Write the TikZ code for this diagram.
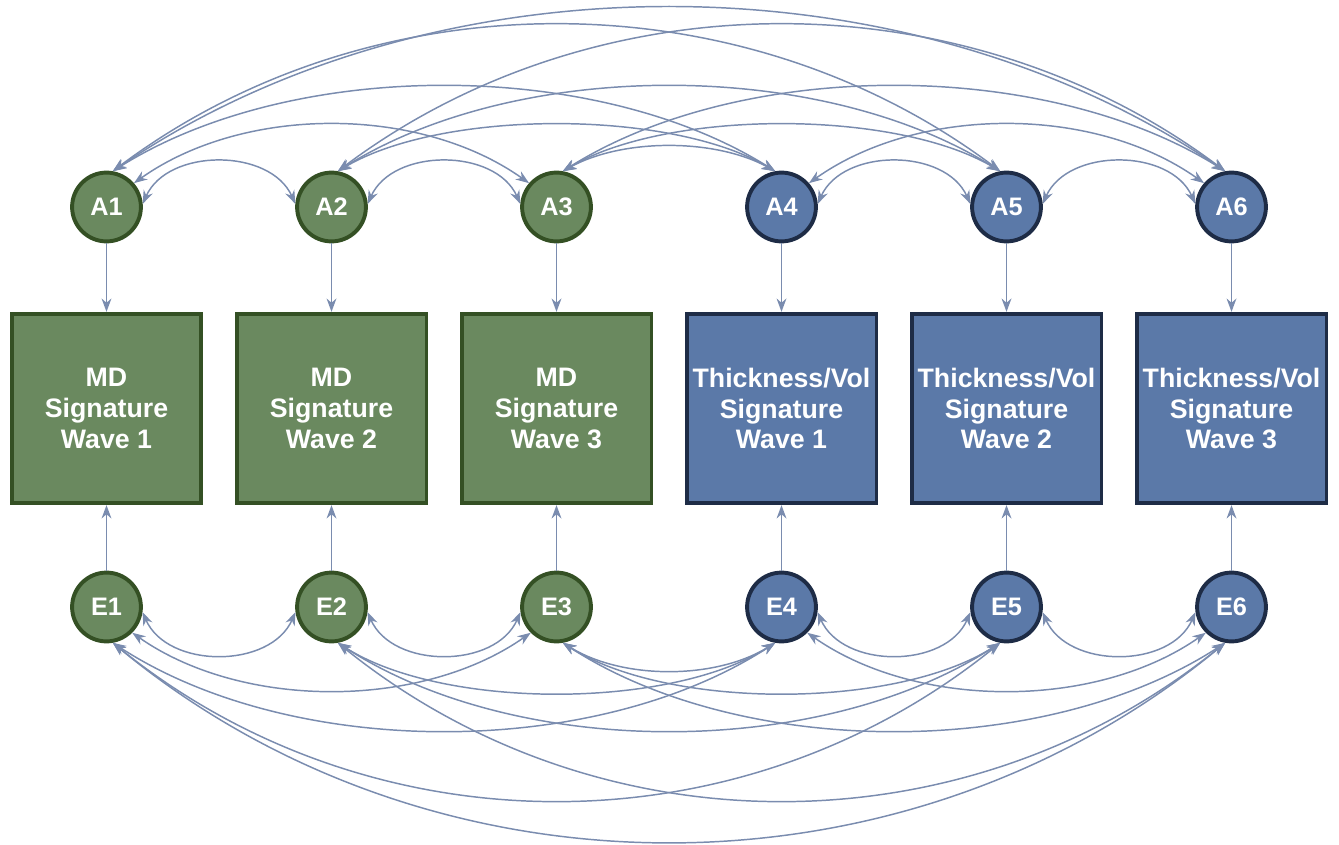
\documentclass[tikz,border=0pt]{standalone}
\usepackage{fontspec}
\setmainfont{Liberation Sans}
\usetikzlibrary{arrows.meta}
\definecolor{mdfill}{RGB}{106,137,95}
\definecolor{mdline}{RGB}{52,80,36}
\definecolor{tvfill}{RGB}{91,121,168}
\definecolor{tvline}{RGB}{30,44,70}
\definecolor{arcline}{RGB}{122,140,175}

\begin{document}
\begin{tikzpicture}[
  x=0.025cm, y=0.025cm,
  latent/.style={circle, line width=2.8pt, minimum size=1.72cm, inner sep=0pt,
                 text=white, font=\fontsize{18}{21}\selectfont\bfseries},
  mdlat/.style={latent, draw=mdline, fill=mdfill},
  tvlat/.style={latent, draw=tvline, fill=tvfill},
  sig/.style={rectangle, line width=2.6pt, minimum size=4.74cm, inner sep=2pt,
              align=center, text=white, font=\fontsize{19}{22}\selectfont\bfseries},
  mdsig/.style={sig, draw=mdline, fill=mdfill},
  tvsig/.style={sig, draw=tvline, fill=tvfill},
  load/.style={-{Stealth[length=9.5pt, width=7pt]}, arcline, line width=1.05pt},
  cov/.style={{Stealth[length=9.5pt, width=7pt]}-{Stealth[length=9.5pt, width=7pt]},
              arcline, line width=1.05pt}
]
  \useasboundingbox (0,0) rectangle (1339,844);

  % Signature boxes
  \node[mdsig] (S1) at (106.5,435.5)  {MD\\Signature\\Wave 1};
  \node[mdsig] (S2) at (331.5,435.5)  {MD\\Signature\\Wave 2};
  \node[mdsig] (S3) at (556.5,435.5)  {MD\\Signature\\Wave 3};
  \node[tvsig] (S4) at (781.5,435.5)  {Thickness/Vol\\Signature\\Wave 1};
  \node[tvsig] (S5) at (1006.5,435.5) {Thickness/Vol\\Signature\\Wave 2};
  \node[tvsig] (S6) at (1231.5,435.5) {Thickness/Vol\\Signature\\Wave 3};

  % Latent factors (top row)
  \node[mdlat] (A1) at (106.5,637)  {A1};
  \node[mdlat] (A2) at (331.5,637)  {A2};
  \node[mdlat] (A3) at (556.5,637)  {A3};
  \node[tvlat] (A4) at (781.5,637)  {A4};
  \node[tvlat] (A5) at (1006.5,637) {A5};
  \node[tvlat] (A6) at (1231.5,637) {A6};

  % Error terms (bottom row)
  \node[mdlat] (E1) at (106.5,237)  {E1};
  \node[mdlat] (E2) at (331.5,237)  {E2};
  \node[mdlat] (E3) at (556.5,237)  {E3};
  \node[tvlat] (E4) at (781.5,237)  {E4};
  \node[tvlat] (E5) at (1006.5,237) {E5};
  \node[tvlat] (E6) at (1231.5,237) {E6};

  % Paths into the boxes
  \foreach \k in {1,...,6} {
    \draw[load] (A\k) -- (S\k);
    \draw[load] (E\k) -- (S\k);
  }

  % Covariances among A's: from/angle/to/angle/control dx/control dy
  \foreach \s/\sa/\t/\ta/\dx/\dy in {
      A1/5/A2/175/25/56, A2/5/A3/175/25/56, A4/5/A5/175/25/56, A5/5/A6/175/25/56,
      A1/41/A3/139/110/78, A4/41/A6/139/110/78,
      A3/80/A4/100/60/33,
      A2/80/A4/100/105/62, A3/80/A5/100/105/62,
      A1/80/A4/100/180/113, A2/80/A5/100/180/113, A3/80/A6/100/180/113,
      A1/80/A5/100/260/195, A2/80/A6/100/260/195,
      A1/80/A6/100/320/218}
    \draw[cov] (\s.\sa) .. controls +(\dx,\dy) and +(-\dx,\dy) .. (\t.\ta);

  % Covariances among E's
  \foreach \s/\sa/\t/\ta/\dx/\dy in {
      E1/352/E2/188/25/-57, E2/352/E3/188/25/-57, E4/352/E5/188/25/-57, E5/352/E6/188/25/-57,
      E1/315/E3/225/110/-77, E4/315/E6/225/110/-77,
      E3/280/E4/260/60/-37,
      E2/280/E4/260/105/-67, E3/280/E5/260/105/-67,
      E1/280/E4/260/180/-117, E2/280/E5/260/180/-117, E3/280/E6/260/180/-117,
      E1/280/E5/260/260/-210, E2/280/E6/260/260/-210,
      E1/280/E6/260/320/-265}
    \draw[cov] (\s.\sa) .. controls +(\dx,\dy) and +(-\dx,\dy) .. (\t.\ta);

\end{tikzpicture}
\end{document}
